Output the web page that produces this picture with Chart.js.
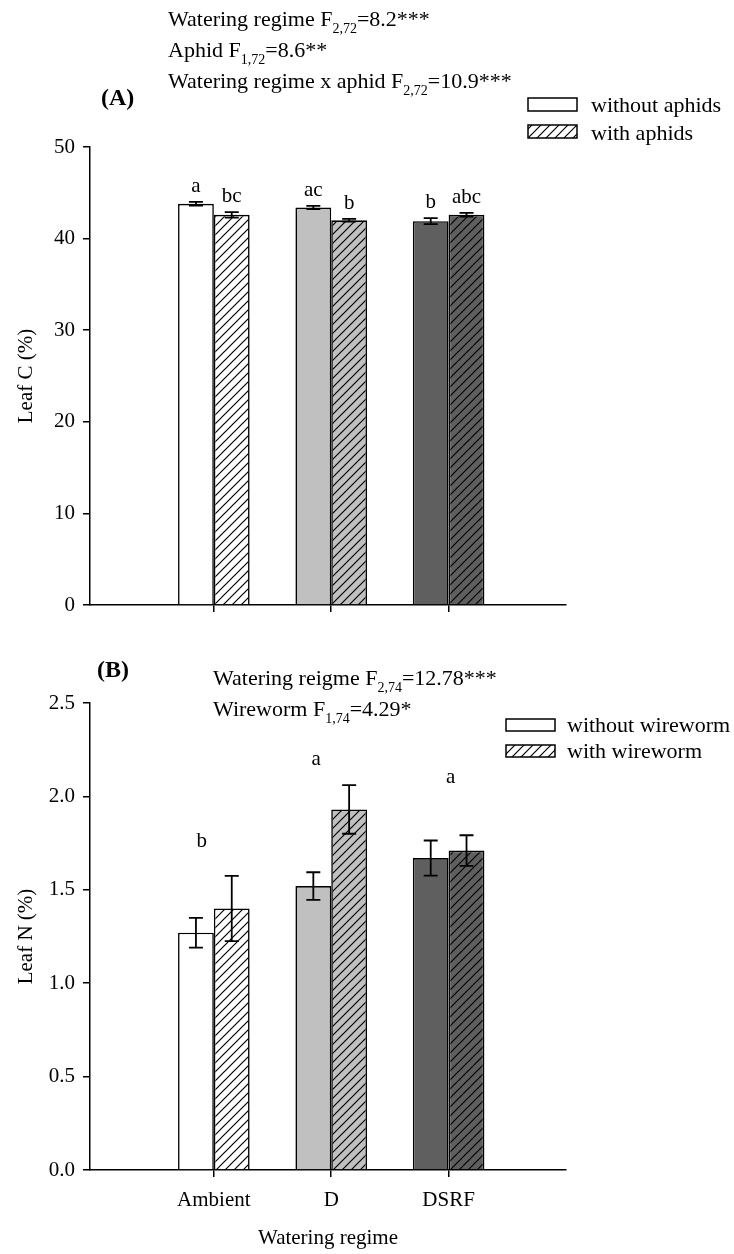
<!DOCTYPE html>
<html>
<head>
<meta charset="utf-8">
<script src="https://cdn.jsdelivr.net/npm/chart.js@4.4.1/dist/chart.umd.min.js"></script>
<style>
  html, body { margin: 0; padding: 0; background: #fff; }
  #wrap { position: relative; width: 734px; height: 1254px; }
  canvas { position: absolute; left: 0; }
</style>
</head>
<body>
<div id="wrap">
  <canvas id="chartA" width="734" height="630" style="top:0"></canvas>
  <canvas id="chartB" width="734" height="624" style="top:630px"></canvas>
</div>
<script>
// ---- data ----
const regimes = ['Ambient', 'D', 'DSRF'];

const leafC_without = [43.8, 43.4, 41.9];
const leafC_without_se = [0.2, 0.18, 0.33];
const leafC_with = [42.6, 42.0, 42.6];
const leafC_with_se = [0.3, 0.15, 0.2];
const leafC_letters_without = ['a', 'ac', 'b'];
const leafC_letters_with = ['bc', 'b', 'abc'];
const leafC_ticks = [0, 10, 20, 30, 40, 50];

const leafN_without = [1.27, 1.52, 1.67];
const leafN_without_se = [0.08, 0.074, 0.094];
const leafN_with = [1.40, 1.93, 1.71];
const leafN_with_se = [0.175, 0.13, 0.082];
const leafN_letters = ['b', 'a', 'a'];
const leafN_ticks = [0, 0.5, 1.0, 1.5, 2.0, 2.5];

// ---- styling ----
const FONT = '"Liberation Serif", "Times New Roman", serif';
const fills = ['#ffffff', '#c0c0c0', '#5f5f5f'];

function hatch(base) {
	const s = 9;
	const c = document.createElement('canvas');
	c.width = s; c.height = s;
	const g = c.getContext('2d');
	g.fillStyle = base;
	g.fillRect(0, 0, s, s);
	g.strokeStyle = '#000';
	g.lineWidth = 1.2;
	g.beginPath();
	g.moveTo(0, s); g.lineTo(s, 0);
	g.moveTo(-1, 1); g.lineTo(1, -1);
	g.moveTo(s - 1, s + 1); g.lineTo(s + 1, s - 1);
	g.stroke();
	return g.createPattern(c, 'repeat');
}

// text with subscripts: parts = [[text, isSub], ...]
function drawRich(ctx, parts, x, y) {
	ctx.textAlign = 'left';
	ctx.textBaseline = 'alphabetic';
	parts.forEach(([t, sub]) => {
		ctx.font = sub ? '14px ' + FONT : '22px ' + FONT;
		ctx.fillText(t, x, sub ? y + 7 : y);
		x += ctx.measureText(t).width;
	});
}

const errorBars = {
	id: 'errorBars',
	afterDatasetsDraw(chart) {
		const {ctx} = chart;
		const yScale = chart.scales.y;
		chart.data.datasets.forEach((ds, di) => {
			const meta = chart.getDatasetMeta(di);
			meta.data.forEach((bar, j) => {
				const v = ds.data[j].y;
				const e = ds.errors[j];
				const top = yScale.getPixelForValue(v + e);
				const bot = yScale.getPixelForValue(v - e);
				ctx.save();
				ctx.strokeStyle = '#000';
				ctx.lineWidth = 1.8;
				ctx.beginPath();
				ctx.moveTo(bar.x, top); ctx.lineTo(bar.x, bot);
				ctx.moveTo(bar.x - 7, top); ctx.lineTo(bar.x + 7, top);
				ctx.moveTo(bar.x - 7, bot); ctx.lineTo(bar.x + 7, bot);
				ctx.stroke();
				ctx.restore();
			});
		});
	}
};

const sigLetters = {
	id: 'sigLetters',
	afterDatasetsDraw(chart, args, opts) {
		const {ctx} = chart;
		const yScale = chart.scales.y;
		const xScale = chart.scales.x;
		ctx.save();
		ctx.fillStyle = '#000';
		ctx.font = '21px ' + FONT;
		ctx.textAlign = 'center';
		ctx.textBaseline = 'alphabetic';
		if (opts.perBar) {
			chart.data.datasets.forEach((ds, di) => {
				const meta = chart.getDatasetMeta(di);
				meta.data.forEach((bar, j) => {
					const top = yScale.getPixelForValue(ds.data[j].y + ds.errors[j]);
					ctx.fillText(ds.letters[j], bar.x, top - opts.gap);
				});
			});
		} else {
			opts.letters.forEach((l, j) => {
				ctx.fillText(l, xScale.getPixelForValue(j + 1) + opts.dx[j], yScale.getPixelForValue(opts.at[j]));
			});
		}
		ctx.restore();
	}
};

const panelText = {
	id: 'panelText',
	afterDraw(chart, args, opts) {
		const {ctx} = chart;
		ctx.save();
		ctx.fillStyle = '#000';
		ctx.font = 'bold 24px ' + FONT;
		ctx.textAlign = 'left';
		ctx.textBaseline = 'alphabetic';
		ctx.fillText(opts.label, opts.labelX, opts.labelY);
		opts.lines.forEach(line => drawRich(ctx, line.parts, line.x, line.y));

		const lg = opts.legend;
		lg.rows.forEach(row => {
			ctx.fillStyle = row.hatched ? hatch('#ffffff') : '#ffffff';
			ctx.fillRect(lg.boxX, row.boxY, lg.boxW, lg.boxH);
			ctx.strokeStyle = '#000';
			ctx.lineWidth = 1.5;
			ctx.strokeRect(lg.boxX, row.boxY, lg.boxW, lg.boxH);
			ctx.fillStyle = '#000';
			ctx.font = '22px ' + FONT;
			ctx.fillText(row.label, lg.textX, row.base);
		});
		ctx.restore();
	}
};

function makeScales(cfg) {
	return {
		x: {
			type: 'linear',
			min: -0.055,
			max: 4,
			offset: false,
			afterBuildTicks: s => { s.ticks = regimes.map((_, i) => ({value: i + 1})); },
			afterFit: s => { s.height = cfg.xHeight; },
			grid: {offset: false, drawOnChartArea: false, drawTicks: true, tickLength: 7, color: '#000', lineWidth: 1.5},
			border: {display: true, color: '#000', width: 1.5},
			ticks: {
				display: cfg.xLabels,
				padding: 11,
				color: '#000',
				font: {family: FONT, size: 21},
				callback: v => regimes[v - 1] || ''
			},
			title: {
				display: cfg.xLabels,
				text: 'Watering regime',
				color: '#000',
				font: {family: FONT, size: 21},
				padding: {top: 0, bottom: 3}
			}
		},
		y: {
			type: 'linear',
			min: cfg.ticks[0],
			max: cfg.ticks[cfg.ticks.length - 1],
			afterBuildTicks: s => { s.ticks = cfg.ticks.map(v => ({value: v})); },
			afterFit: s => { s.width = 90; },
			grid: {drawOnChartArea: false, drawTicks: true, tickLength: 7, color: '#000', lineWidth: 1.5},
			border: {display: true, color: '#000', width: 1.5},
			ticks: {
				padding: 8,
				color: '#000',
				font: {family: FONT, size: 21},
				callback: cfg.fmt
			},
			title: {
				display: true,
				text: cfg.yTitle,
				color: '#000',
				font: {family: FONT, size: 21},
				padding: {top: 14, bottom: 0}
			}
		}
	};
}

function makeDatasets(without, withV, seWithout, seWith, lettersWithout, lettersWith) {
	return [
		{
			label: 'without',
			data: regimes.map((_, i) => ({x: i + 1, y: without[i]})),
			errors: seWithout,
			letters: lettersWithout,
			backgroundColor: fills,
			borderColor: '#000',
			borderWidth: 1.6
		},
		{
			label: 'with',
			data: regimes.map((_, i) => ({x: i + 1, y: withV[i]})),
			errors: seWith,
			letters: lettersWith,
			backgroundColor: fills.map(hatch),
			borderColor: '#000',
			borderWidth: 1.6
		}
	];
}

const commonOptions = {
	responsive: false,
	animation: false,
	devicePixelRatio: 1,
	categoryPercentage: 0.61,
	barPercentage: 1.0
};

// Panel A – leaf C
new Chart(document.getElementById('chartA'), {
	type: 'bar',
	data: {
		datasets: makeDatasets(leafC_without, leafC_with, leafC_without_se, leafC_with_se,
			leafC_letters_without, leafC_letters_with)
	},
	options: Object.assign({}, commonOptions, {
		layout: {padding: {top: 147, right: 168, left: 0, bottom: 0}},
		scales: makeScales({xHeight: 25, xLabels: false, ticks: leafC_ticks, yTitle: 'Leaf C (%)', fmt: v => String(v)}),
		plugins: {
			legend: {display: false},
			tooltip: {enabled: false},
			sigLetters: {perBar: true, gap: 10},
			panelText: {
				label: '(A)', labelX: 101, labelY: 105,
				lines: [
					{x: 168, y: 26, parts: [['Watering regime F'], ['2,72', true], ['=8.2***']]},
					{x: 168, y: 57, parts: [['Aphid F'], ['1,72', true], ['=8.6**']]},
					{x: 168, y: 88, parts: [['Watering regime x aphid F'], ['2,72', true], ['=10.9***']]}
				],
				legend: {
					boxX: 528, boxW: 49, boxH: 13, textX: 591,
					rows: [
						{label: 'without aphids', hatched: false, boxY: 98, base: 112},
						{label: 'with aphids', hatched: true, boxY: 125, base: 140}
					]
				}
			}
		}
	}),
	plugins: [errorBars, sigLetters, panelText]
});

// Panel B – leaf N
new Chart(document.getElementById('chartB'), {
	type: 'bar',
	data: {
		datasets: makeDatasets(leafN_without, leafN_with, leafN_without_se, leafN_with_se, [], [])
	},
	options: Object.assign({}, commonOptions, {
		layout: {padding: {top: 73, right: 168, left: 0, bottom: 0}},
		scales: makeScales({xHeight: 84, xLabels: true, ticks: leafN_ticks, yTitle: 'Leaf N (%)', fmt: v => v.toFixed(1)}),
		plugins: {
			legend: {display: false},
			tooltip: {enabled: false},
			sigLetters: {perBar: false, letters: leafN_letters, at: [1.727, 2.168, 2.072], dx: [-12, -15, 2]},
			panelText: {
				label: '(B)', labelX: 97, labelY: 47,
				lines: [
					{x: 213, y: 55, parts: [['Watering reigme F'], ['2,74', true], ['=12.78***']]},
					{x: 213, y: 86, parts: [['Wireworm F'], ['1,74', true], ['=4.29*']]}
				],
				legend: {
					boxX: 506, boxW: 49, boxH: 12, textX: 567,
					rows: [
						{label: 'without wireworm', hatched: false, boxY: 89, base: 102},
						{label: 'with wireworm', hatched: true, boxY: 115, base: 128}
					]
				}
			}
		}
	}),
	plugins: [errorBars, sigLetters, panelText]
});
</script>
</body>
</html>
